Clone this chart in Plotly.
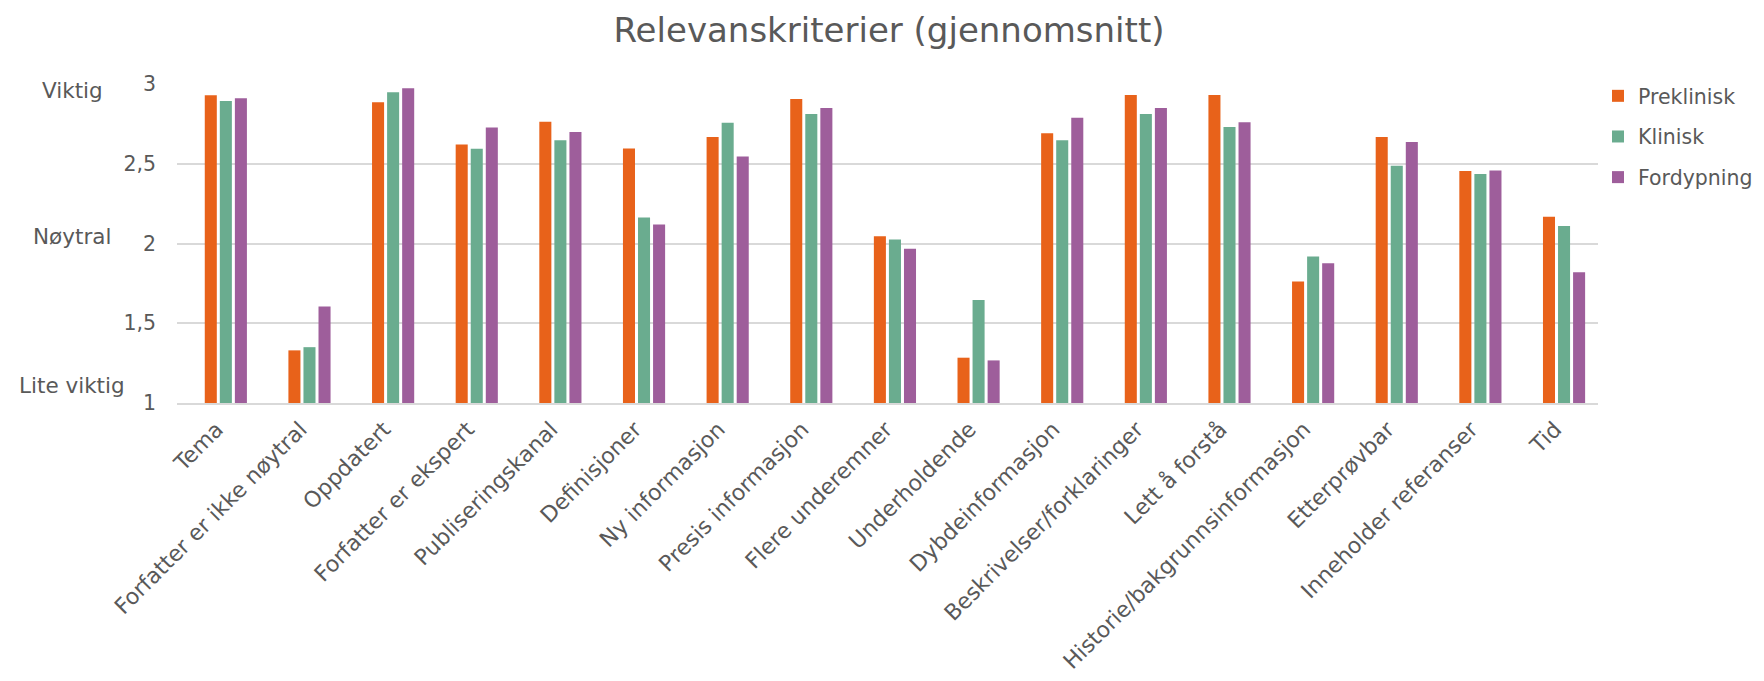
import plotly.graph_objects as go

categories = ["Tema", "Forfatter er ikke nøytral", "Oppdatert", "Forfatter er ekspert",
              "Publiseringskanal", "Definisjoner", "Ny informasjon", "Presis informasjon",
              "Flere underemner", "Underholdende", "Dybdeinformasjon",
              "Beskrivelser/forklaringer", "Lett å forstå", "Historie/bakgrunnsinformasjon",
              "Etterprøvbar", "Inneholder referanser", "Tid"]

preklinisk = [2.93, 1.33, 2.885, 2.62, 2.763, 2.596, 2.667, 2.906, 2.046, 1.284,
              2.692, 2.931, 2.931, 1.762, 2.667, 2.454, 2.167]
klinisk = [2.893, 1.35, 2.948, 2.594, 2.648, 2.163, 2.757, 2.812, 2.025, 1.646,
           2.648, 2.812, 2.73, 1.919, 2.487, 2.435, 2.11]
fordypning = [2.91, 1.605, 2.973, 2.728, 2.699, 2.119, 2.546, 2.849, 1.967, 1.267,
              2.789, 2.849, 2.76, 1.876, 2.636, 2.458, 1.82]

series_names = ["Preklinisk", "Klinisk", "Fordypning"]
colors = ["#E8621A", "#6AAC8F", "#9E5E9B"]

tick_vals = [1, 1.5, 2, 2.5, 3]
tick_text = ["1", "1,5", "2", "2,5", "3"]
scale_labels = [(3, "Viktig"), (2, "Nøytral"), (1, "Lite viktig")]

FONT = "Century Gothic, DejaVu Sans, sans-serif"
GREY = "#595959"

W, H = 1756, 673
L, R, T, B = 169, W - 1594, 76, H - 395

fig = go.Figure()
for i, (name, vals) in enumerate(zip(series_names, [preklinisk, klinisk, fordypning])):
    fig.add_trace(go.Bar(
        x=list(range(len(categories))), y=[v - 1 for v in vals], base=1, name=name,
        marker=dict(color=colors[i], line=dict(width=0)),
        legendgroup=name,
    ))

annotations = []
offsets = {3: -6, 2: 7, 1: 18}
for val, txt in scale_labels:
    annotations.append(dict(
        x=(72 - 177) / 1425, xref="paper", y=val, yref="y", text=txt, showarrow=False,
        xanchor="center", yanchor="middle", yshift=offsets[val],
        font=dict(family=FONT, size=21.5, color=GREY)))

fig.update_layout(
    width=W, height=H,
    margin=dict(l=L, r=R, t=T, b=B),
    paper_bgcolor="white", plot_bgcolor="white",
    barmode="group", bargap=0.46, bargroupgap=0.2,
    font=dict(family=FONT, color=GREY, size=19),
    title=dict(text="Relevanskriterier (gjennomsnitt)", x=(889 - 8) / W, xanchor="center",
               y=1 - 22 / H, yanchor="middle",
               font=dict(family=FONT, size=34, color=GREY)),
    xaxis=dict(tickmode="array", tickvals=list(range(len(categories))), ticktext=categories,
               range=[-0.584, 16.406],
               tickangle=-45, showgrid=False, showline=True, linecolor="#D9D9D9",
               linewidth=1.5, tickfont=dict(family=FONT, size=22, color=GREY),
               ticks="", automargin=False, ticklabelstandoff=3, ticklabelshift=-9),
    yaxis=dict(range=[1, 3], tickvals=tick_vals, ticktext=tick_text,
               showgrid=True, gridcolor="#D9D9D9", gridwidth=1.5, zeroline=False,
               tickfont=dict(family=FONT, size=20.5, color=GREY), ticklabelstandoff=20,
               automargin=False),
    legend=dict(xref="container", yref="container",
                x=(1598 - 8) / W, xanchor="left", y=1 - (76 - 8) / H, yanchor="top",
                font=dict(family=FONT, size=20.5, color=GREY),
                tracegroupgap=11, traceorder="grouped",
                itemwidth=30),
    annotations=annotations,
)

fig.write_html("out.html")
